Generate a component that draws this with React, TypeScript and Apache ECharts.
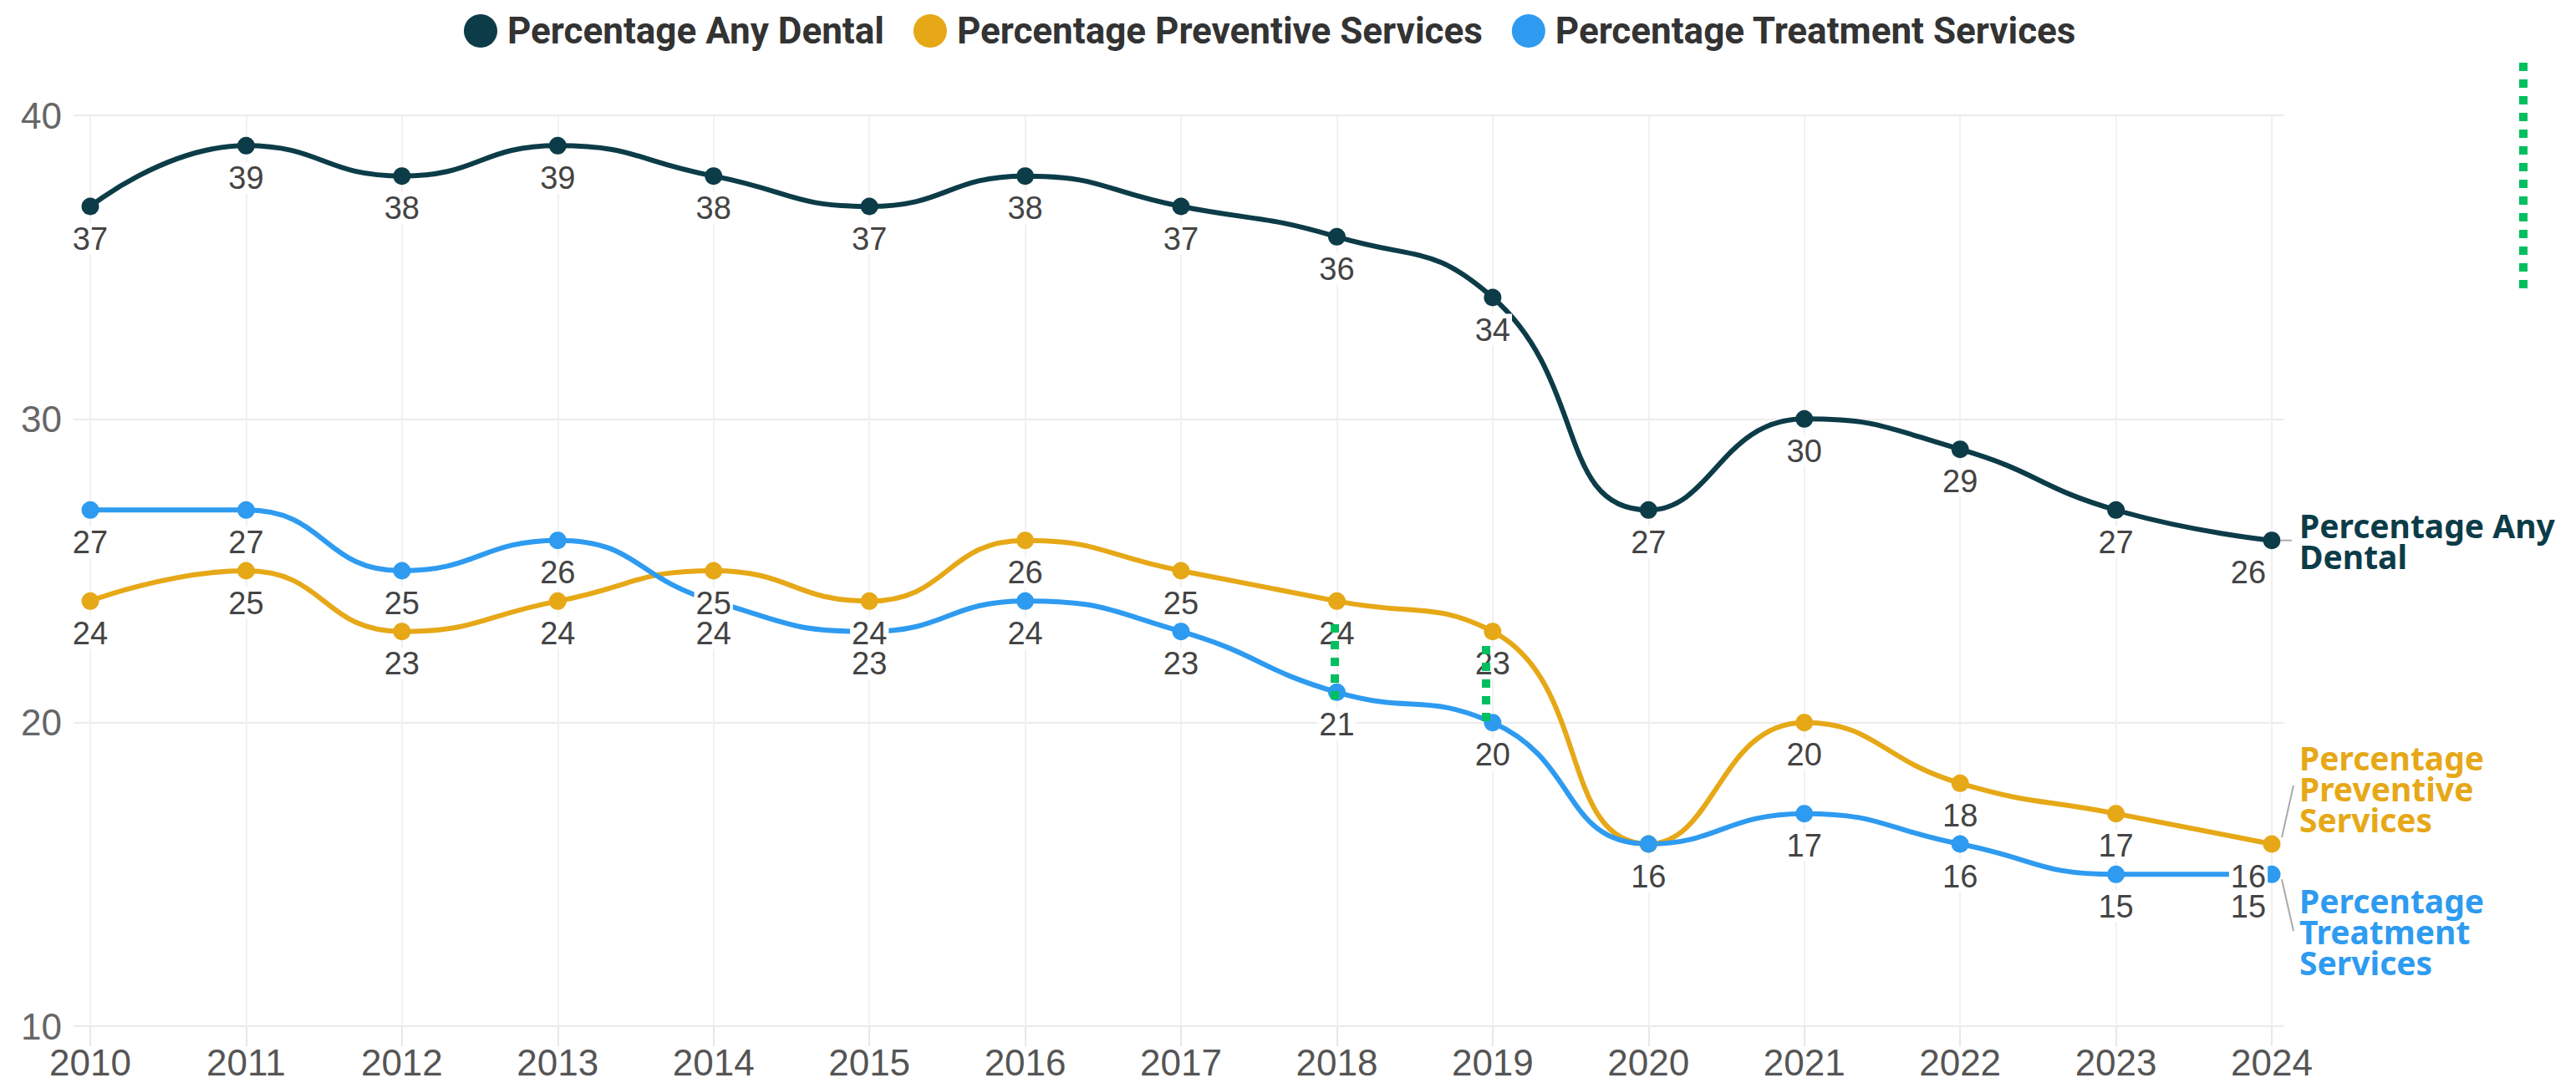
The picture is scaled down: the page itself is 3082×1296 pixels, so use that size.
import React, { useEffect, useRef } from 'react';
import * as echarts from 'echarts';

const years = ['2010', '2011', '2012', '2013', '2014', '2015', '2016', '2017', '2018', '2019', '2020', '2021', '2022', '2023', '2024'];
const anyDental = [37, 39, 38, 39, 38, 37, 38, 37, 36, 34, 27, 30, 29, 27, 26];
const preventive = [24, 25, 23, 24, 25, 24, 26, 25, 24, 23, 16, 20, 18, 17, 16];
const treatment = [27, 27, 25, 26, 24, 23, 24, 23, 21, 20, 16, 17, 16, 15, 15];
const seriesNames = ['Percentage Any Dental', 'Percentage Preventive Services', 'Percentage Treatment Services'];
const endLabelTexts = ['Percentage Any\nDental', 'Percentage\nPreventive\nServices', 'Percentage\nTreatment\nServices'];
const yMin = 10;
const yMax = 40;
const yInterval = 10;

const colors = ['#0c3c48', '#e6a817', '#2e9bf0'];
const endLabelDy = [0, -67, 68];

export default function App() {
  const ref = useRef<HTMLDivElement>(null);

  useEffect(() => {
    document.body.style.margin = '0';
    const chart = echarts.init(ref.current!, null, { renderer: 'svg' });
    const allData = [anyDental, preventive, treatment];
    const last = years.length - 1;

    const series = allData.map((vals, si) => ({
      name: seriesNames[si],
      type: 'line',
      xAxisIndex: 1,
      yAxisIndex: 1,
      smooth: 0.5,
      symbol: 'circle',
      symbolSize: 21,
      color: colors[si],
      lineStyle: { width: 6, color: colors[si] },
      itemStyle: { color: colors[si] },
      data: vals.map((v, i) =>
        i === last ? { value: v, label: { offset: [-28, 0] } } : v
      ),
      label: {
        show: true,
        position: 'bottom',
        distance: 9,
        fontSize: 38,
        lineHeight: 38,
        color: '#444',
        fontFamily: 'Liberation Sans, Arial, sans-serif',
        backgroundColor: '#ffffff',
        padding: [0, 2],
      },
      endLabel: {
        show: true,
        formatter: () => endLabelTexts[si],
        color: colors[si],
        fontSize: 39,
        lineHeight: 37,
        fontWeight: 'bold',
        fontFamily: 'Noto Sans, sans-serif',
        distance: 33,
        offset: [0, endLabelDy[si]],
        align: 'left',
        verticalAlign: 'middle',
      },
      emphasis: { disabled: true },
    }));

    const option: any = {
      animation: false,
      backgroundColor: '#ffffff',
      legend: {
        left: 550,
        top: 10,
        itemWidth: 40,
        itemHeight: 40,
        itemGap: 35,
        icon: 'circle',
        data: seriesNames,
        textStyle: {
          fontSize: 44,
          fontWeight: 'bold',
          color: '#333',
          fontFamily: 'Roboto, sans-serif',
          padding: [0, 0, 0, 7],
        },
      },
      grid: [
        { left: 88, right: 350, top: 138, bottom: 68 },
        { left: 108, right: 364, top: 138, bottom: 68 },
      ],
      xAxis: [
        { gridIndex: 0, type: 'value', min: 0, max: 1, show: false },
        {
          gridIndex: 1,
          type: 'category',
          data: years,
          boundaryGap: false,
          axisLine: { show: false },
          axisTick: { show: true, length: 24, lineStyle: { color: '#e8e8e8', width: 2 } },
          axisLabel: {
            fontSize: 44,
            lineHeight: 44,
            color: '#555',
            margin: 21,
            fontFamily: 'Liberation Sans, Arial, sans-serif',
          },
          splitLine: { show: true, lineStyle: { color: '#f1f1f1', width: 2 } },
        },
      ],
      yAxis: [
        {
          gridIndex: 0,
          type: 'value',
          min: yMin,
          max: yMax,
          interval: yInterval,
          axisLine: { show: false },
          axisTick: { show: false },
          axisLabel: {
            fontSize: 44,
            color: '#666',
            margin: 14,
            fontFamily: 'Liberation Sans, Arial, sans-serif',
          },
          splitLine: { show: true, lineStyle: { color: '#ebebeb', width: 2 } },
        },
        {
          gridIndex: 1,
          type: 'value',
          min: yMin,
          max: yMax,
          interval: yInterval,
          show: false,
        },
      ],
      series,
    };
    chart.setOption(option);

    // connectors from last points to end labels, positioned via the chart's own scales
    const px = allData.map((vals) =>
      chart.convertToPixel({ gridIndex: 1 } as any, [last, vals[last]]) as number[]
    );
    const connectors = [
      [[11, 0], [24, 0]],
      [[12, -8], [26, -70]],
      [[12, 6], [26, 68]],
    ];
    const graphics: any[] = connectors.map((c, si) => ({
      type: 'line',
      shape: {
        x1: px[si][0] + c[0][0],
        y1: px[si][1] + c[0][1],
        x2: px[si][0] + c[1][0],
        y2: px[si][1] + c[1][1],
      },
      style: { stroke: '#aaaaaa', lineWidth: 2 },
      z: 10,
    }));

    // green dotted marks present in the reference picture
    const dotted = [
      [1597, 747, 837],
      [1778, 773, 863],
      [3019, 75, 345],
    ];
    dotted.forEach((d) => {
      graphics.push({
        type: 'line',
        shape: { x1: d[0], y1: d[1], x2: d[0], y2: d[2] },
        style: { stroke: '#00bf5f', lineWidth: 10, lineDash: [10, 10], lineCap: 'butt' },
        z: 20,
      });
    });

    chart.setOption({ graphic: graphics });

    return () => chart.dispose();
  }, []);

  return (
    <div
      ref={ref}
      style={{ position: 'fixed', left: 0, top: 0, width: 3082, height: 1296 }}
    />
  );
}
